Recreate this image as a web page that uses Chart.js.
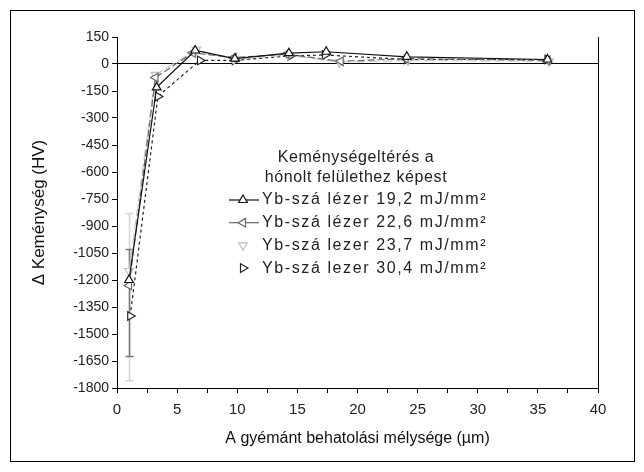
<!DOCTYPE html>
<html>
<head>
<meta charset="utf-8">
<script src="https://cdn.jsdelivr.net/npm/chart.js@4/dist/chart.umd.min.js"></script>
<style>
  html, body { margin: 0; padding: 0; background: #fff; }
  #box { width: 644px; height: 472px; position: relative; }
</style>
</head>
<body>
<div id="box"><canvas id="chart" width="644" height="472"></canvas></div>
<script>
// depth (um) and hardness difference (HV) for every laser energy
const depth19 = [1.0, 3.3, 6.5, 9.8, 14.3, 17.4, 24.1, 35.8];
const hv19 = [-1200, -130, 75, 30, 60, 68, 40, 25];
const depth22 = [1.0, 3.2, 6.3, 9.7, 14.1, 18.6, 24.0, 35.8];
const hv22 = [-1230, -75, 62, 35, 55, 15, 30, 20];
const depth23 = [1.0, 3.2, 6.6, 9.7, 14.2, 18.5, 24.2, 35.9];
const hv23 = [-1150, -60, 80, 25, 50, 10, 20, 15];
const depth30 = [1.1, 3.4, 6.9, 9.8, 14.4, 17.3, 24.1, 35.8];
const hv30 = [-1400, -180, 20, 20, 45, 50, 25, 25];

// error bars at the first measuring depth
const errDepth = [1.0, 1.0];
const errTop = [-830, -1030];
const errBottom = [-1760, -1625];

const seriesNames = [
    'Yb-szá lézer 19,2 mJ/mm²',
    'Yb-szá lézer 22,6 mJ/mm²',
    'Yb-szá lezer 23,7 mJ/mm²',
    'Yb-szá lezer 30,4 mJ/mm²'
];
const legendTitle = ['Keménységeltérés a', 'hónolt felülethez képest'];
const xTitle = 'A gyémánt behatolási mélysége (µm)';
const yTitle = '\u0394 Keménység (HV)';

const FONT = '"Liberation Sans", Arial, sans-serif';

function points(xs, ys) {
    var out = [];
    for (var i = 0; i < xs.length; i++) {
        out.push({x: xs[i], y: ys[i]});
    }
    return out;
}

// legend: line sample + marker, drawn inside the plot
const legendBox = {
    id: 'legendBox',
    afterDraw(chart) {
        var ctx = chart.ctx;
        ctx.save();
        ctx.fillStyle = '#222';
        ctx.font = '16px ' + FONT;
        ctx.letterSpacing = '0.6px';
        ctx.textAlign = 'center';
        ctx.textBaseline = 'middle';
        ctx.fillText(legendTitle[0], 356, 158);
        ctx.fillText(legendTitle[1], 356, 178);

        ctx.textAlign = 'left';
        ctx.letterSpacing = '1.6px';
        chart.data.datasets.forEach(function (ds, i) {
            var y = 200 + i * 22.7;
            var cx = 243;
            if (ds.legendLine) {
                ctx.strokeStyle = ds.borderColor;
                ctx.lineWidth = 1.2;
                ctx.setLineDash([]);
                ctx.beginPath();
                ctx.moveTo(229, y);
                ctx.lineTo(259, y);
                ctx.stroke();
            }
            ctx.fillStyle = '#fff';
            ctx.strokeStyle = ds.pointBorderColor;
            ctx.lineWidth = 1.2;
            Chart.helpers.drawPoint(ctx, {
                pointStyle: 'triangle',
                rotation: ds.pointRotation,
                radius: 5,
                borderWidth: 1.2
            }, cx, y);
            ctx.fillStyle = '#222';
            ctx.fillText(ds.label, 262, y);
        });
        ctx.restore();
    }
};

// error bars, frame and right axis line
const extras = {
    id: 'extras',
    beforeDraw(chart) {
        var ctx = chart.ctx;
        ctx.save();
        ctx.fillStyle = '#fff';
        ctx.fillRect(0, 0, chart.width, chart.height);
        ctx.strokeStyle = '#000';
        ctx.lineWidth = 1;
        ctx.strokeRect(10.5, 10.5, 624, 451);
        ctx.restore();
    },
    beforeDatasetsDraw(chart) {
        var ctx = chart.ctx;
        var xs = chart.scales.x;
        var ys = chart.scales.y;
        var colors = ['#d4d4d4', '#777'];
        ctx.save();
        for (var i = 0; i < errDepth.length; i++) {
            var px = xs.getPixelForValue(errDepth[i]) + 0.5;
            var t = ys.getPixelForValue(errTop[i]);
            var b = ys.getPixelForValue(errBottom[i]);
            ctx.strokeStyle = colors[i];
            ctx.lineWidth = 1.5;
            ctx.beginPath();
            ctx.moveTo(px, t); ctx.lineTo(px, b);
            ctx.moveTo(px - 4, t); ctx.lineTo(px + 4, t);
            ctx.moveTo(px - 4, b); ctx.lineTo(px + 4, b);
            ctx.stroke();
        }
        var a = chart.chartArea;
        ctx.strokeStyle = '#000';
        ctx.lineWidth = 1;
        ctx.beginPath();
        ctx.moveTo(Math.round(a.right) + 0.5, a.top);
        ctx.lineTo(Math.round(a.right) + 0.5, a.bottom);
        ctx.stroke();
        ctx.restore();
    }
};

new Chart(document.getElementById('chart'), {
    type: 'scatter',
    data: {
        datasets: [
            {
                label: seriesNames[0], data: points(depth19, hv19),
                borderColor: '#111', pointBorderColor: '#111', pointBackgroundColor: '#fff',
                pointRotation: 0, legendLine: true, borderDash: []
            },
            {
                label: seriesNames[1], data: points(depth22, hv22),
                borderColor: '#666', pointBorderColor: '#666', pointBackgroundColor: '#fff',
                pointRotation: -90, legendLine: true, borderDash: [7, 3]
            },
            {
                label: seriesNames[2], data: points(depth23, hv23),
                borderColor: '#c8c8c8', pointBorderColor: '#c0c0c0', pointBackgroundColor: '#fff',
                pointRotation: 180, legendLine: false, borderDash: [10, 4]
            },
            {
                label: seriesNames[3], data: points(depth30, hv30),
                borderColor: '#222', pointBorderColor: '#222', pointBackgroundColor: '#fff',
                pointRotation: 90, legendLine: false, borderDash: [3, 3]
            }
        ].map(function (ds) {
            ds.showLine = true;
            ds.borderWidth = 1.2;
            ds.pointStyle = 'triangle';
            ds.pointRadius = 5;
            ds.pointBorderWidth = 1.2;
            return ds;
        })
    },
    options: {
        responsive: false,
        animation: false,
        layout: { padding: { left: 29, right: 46, top: 37, bottom: 24 } },
        plugins: {
            legend: { display: false },
            tooltip: { enabled: false }
        },
        scales: {
            x: {
                type: 'linear', min: 0, max: 40,
                afterBuildTicks: function (scale) {
                    var t = [];
                    for (var v = 0; v <= 40; v += 2.5) t.push({value: v});
                    scale.ticks = t;
                },
                afterFit: function (scale) { scale.height = 60; },
                border: { display: true, color: '#000', width: 1 },
                grid: { display: true, drawOnChartArea: false, color: '#000', tickLength: 5 },
                ticks: {
                    color: '#222', font: { family: FONT, size: 15 }, padding: 8,
                    callback: function (v) { return v % 5 === 0 ? String(v) : ''; }
                },
                title: {
                    display: true, text: xTitle, color: '#111',
                    font: { family: FONT, size: 16 }, padding: { top: 2, bottom: 0 }
                }
            },
            y: {
                type: 'linear', min: -1800, max: 150,
                afterBuildTicks: function (scale) {
                    var t = [];
                    for (var v = -1800; v <= 150; v += 75) t.push({value: v});
                    scale.ticks = t;
                },
                afterFit: function (scale) { scale.width = 88; },
                border: { display: true, color: '#000', width: 1 },
                grid: {
                    display: true, drawOnChartArea: true, tickLength: 5,
                    color: function (c) { return c.tick && c.tick.value === 0 ? '#000' : 'rgba(0,0,0,0)'; },
                    tickColor: '#000'
                },
                ticks: {
                    color: '#222', font: { family: FONT, size: 14 }, padding: 3,
                    callback: function (v) { return v % 150 === 0 ? String(v) : ''; }
                },
                title: {
                    display: true, text: yTitle, color: '#111',
                    font: { family: FONT, size: 17 }, padding: { top: 0, bottom: 4 }
                }
            }
        }
    },
    plugins: [extras, legendBox]
});
</script>
</body>
</html>
